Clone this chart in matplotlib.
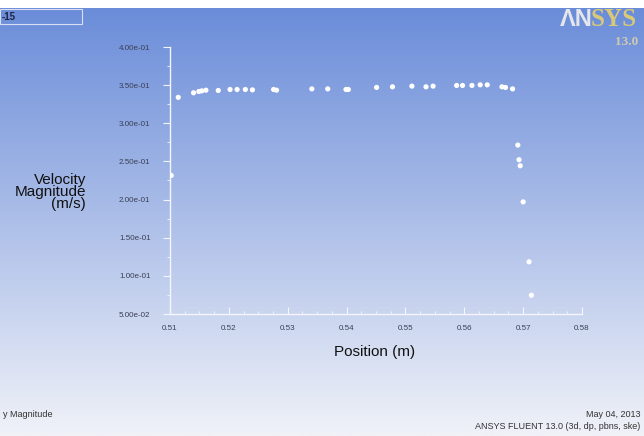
import numpy as np
import matplotlib
matplotlib.use("Agg")
import matplotlib.pyplot as plt
from matplotlib.ticker import MultipleLocator, FormatStrFormatter
from matplotlib.patches import Rectangle

plt.rcParams['font.family'] = ['Liberation Sans', 'DejaVu Sans']

# velocity magnitude along the line
position = [0.5102, 0.5114, 0.5140, 0.5149, 0.5154, 0.5161, 0.5182, 0.5202,
            0.5214, 0.5228, 0.5240, 0.5276, 0.5281, 0.5341, 0.5368, 0.5399,
            0.5403, 0.5451, 0.5478, 0.5511, 0.5535, 0.5547, 0.5587, 0.5597,
            0.5613, 0.5627, 0.5639, 0.5664, 0.5670, 0.5682, 0.5691, 0.5693,
            0.5695, 0.5700, 0.5710, 0.5714]
velocity = [0.2316, 0.3340, 0.3400, 0.3417, 0.3425, 0.3434, 0.3430, 0.3443,
            0.3443, 0.3443, 0.3438, 0.3443, 0.3434, 0.3451, 0.3451, 0.3443,
            0.3443, 0.3470, 0.3478, 0.3487, 0.3478, 0.3487, 0.3496, 0.3496,
            0.3496, 0.3504, 0.3504, 0.3478, 0.3470, 0.3451, 0.2714, 0.2522,
            0.2443, 0.1970, 0.1184, 0.0746]

W, H = 644, 436
fig = plt.figure(figsize=(W / 100, H / 100), dpi=100)
fig.patch.set_facecolor('white')

# blue-to-white gradient background like the Fluent window
bg = fig.add_axes([0, 0, 1, 1 - 8 / H])
top = np.array([106, 140, 217]) / 255
bot = np.array([240, 242, 248]) / 255
t = np.linspace(0, 1, 256)[:, None]
grad = (top[None, :] * (1 - t) + bot[None, :] * t)[:, None, :]
bg.imshow(grad, aspect='auto', extent=[0, 1, 0, 1])
bg.set_axis_off()

# title box at top left
fig.add_artist(Rectangle((0, 1 - 24 / H), 82 / W, 15 / H, transform=fig.transFigure,
                         fill=False, edgecolor='#d8dff2', lw=0.8))
fig.text(2 / W, 1 - 17 / H, '-15', fontsize=7, fontweight='bold',
         color='#1a2340', va='center', ha='left')

# ANSYS logo (cut at right edge)
fig.text(560 / W, 1 - 19 / H, '\u039bN', fontsize=17, fontweight='bold',
         color='#e4e6ea', va='center', ha='left')
fig.text(591 / W, 1 - 19 / H, 'SYS', fontsize=18, fontweight='bold',
         color='#d8c978', va='center', ha='left', family='Liberation Serif')
fig.text(615 / W, 1 - 42 / H, '13.0', fontsize=9.5, fontweight='bold',
         color='#cfcab0', va='center', ha='left', family='Liberation Serif')

ax = fig.add_axes([170 / W, 1 - 314 / H, 412 / W, 267 / H])
ax.set_facecolor('none')
ax.scatter(position, velocity, s=14, color='white', edgecolors='none', zorder=3)
ax.set_xlim(0.51, 0.58)
ax.set_ylim(0.05, 0.40)
ax.xaxis.set_major_locator(MultipleLocator(0.01))
ax.xaxis.set_minor_locator(MultipleLocator(0.0025))
ax.yaxis.set_major_locator(MultipleLocator(0.05))
ax.yaxis.set_minor_locator(MultipleLocator(0.025))
ax.xaxis.set_major_formatter(FormatStrFormatter('%.2f'))
ax.yaxis.set_major_formatter(FormatStrFormatter('%.2e'))
for s in ['top', 'right']:
    ax.spines[s].set_visible(False)
for s in ['left', 'bottom']:
    ax.spines[s].set_color('#f4f6fc')
    ax.spines[s].set_linewidth(1.0)
ax.tick_params(axis='both', which='major', colors='#f4f6fc', labelcolor='#3a3f55',
               labelsize=5.8, length=5, width=0.8)
ax.tick_params(axis='both', which='minor', colors='#f4f6fc', length=2.5, width=0.6)
ax.tick_params(axis='y', pad=9)
ax.tick_params(axis='x', direction='in', pad=8)
ax.tick_params(axis='x', which='minor', direction='in')

fig.text(86 / W, 1 - 192 / H, 'Velocity\nMagnitude\n(m/s)', fontsize=11,
         ha='right', va='center', color='#111111', linespacing=0.85)
fig.text(375 / W, 1 - 352 / H, 'Position (m)', fontsize=11,
         ha='center', va='center', color='#111111')

fig.text(3 / W, 1 - 414 / H, 'y Magnitude', fontsize=6.5, color='#333333',
         ha='left', va='center')
fig.text(640 / W, 1 - 414 / H, 'May 04, 2013', fontsize=6.5, color='#333333',
         ha='right', va='center')
fig.text(640 / W, 1 - 426 / H, 'ANSYS FLUENT 13.0 (3d, dp, pbns, ske)', fontsize=6.5,
         color='#333333', ha='right', va='center')

fig.savefig('out.png', dpi=100)
